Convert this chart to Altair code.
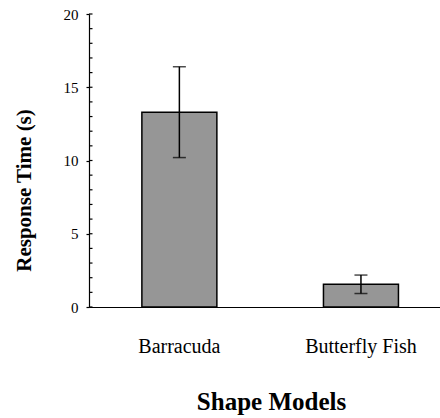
import altair as alt
import pandas as pd

categories = ["Barracuda", "Butterfly Fish"]
means = [13.3, 1.55]
errors = [3.1, 0.63]
y_ticks = [0, 5, 10, 15, 20]
minor_ticks = list(range(0, 21))

df = pd.DataFrame({"model": categories, "mean": means, "err": errors})
df["lo"] = df["mean"] - df["err"]
df["hi"] = df["mean"] + df["err"]
ticks_df = pd.DataFrame({"v": minor_ticks})

FONT = "Liberation Serif"

x_enc = alt.X(
    "model:N",
    sort=categories,
    scale=alt.Scale(paddingInner=0.587, paddingOuter=0.26, align=0.56),
    axis=alt.Axis(
        title="Shape Models",
        titleFont=FONT, titleFontSize=25, titleFontWeight="bold", titleColor="black",
        titleBaseline="alphabetic", titleX=182, titleY=102,
        labelFont=FONT, labelFontSize=20, labelColor="black", labelAngle=0,
        labelBaseline="alphabetic", labelPadding=45,
        ticks=False, domainColor="black", domainWidth=1.2,
    ),
)

y_scale = alt.Scale(domain=[0, 20], nice=False)

bars = alt.Chart(df).mark_bar(color="#969696", stroke="black", strokeWidth=1.5).encode(
    x=x_enc,
    y=alt.Y(
        "mean:Q",
        scale=y_scale,
        axis=alt.Axis(
            values=y_ticks, grid=False,
            title="Response Time (s)",
            titleFont=FONT, titleFontSize=21, titleFontWeight="bold", titleColor="black",
            titleX=-55, titleY=176, titleBaseline="bottom",
            labelFont=FONT, labelFontSize=15, labelColor="black", labelPadding=8,
            tickSize=3, tickColor="black", tickWidth=1.2,
            domainColor="black", domainWidth=1.2,
        ),
    ),
)

rule = alt.Chart(df).mark_rule(color="black", strokeWidth=1.5).encode(
    x=alt.X("model:N", sort=categories),
    y=alt.Y("lo:Q", scale=y_scale),
    y2="hi:Q",
)

cap_hi = alt.Chart(df).mark_tick(orient="horizontal", size=13, thickness=1.5, color="black").encode(
    x=alt.X("model:N", sort=categories),
    y=alt.Y("hi:Q", scale=y_scale),
)
cap_lo = alt.Chart(df).mark_tick(orient="horizontal", size=13, thickness=1.5, color="black").encode(
    x=alt.X("model:N", sort=categories),
    y=alt.Y("lo:Q", scale=y_scale),
)

minor = alt.Chart(ticks_df).mark_rule(color="black", strokeWidth=1.2).encode(
    x=alt.value(0),
    x2=alt.value(3.5),
    y=alt.Y("v:Q", scale=y_scale),
)

chart = alt.layer(bars, rule, cap_hi, cap_lo, minor).properties(
    width=351, height=293,
    background="white",
    autosize=alt.AutoSizeParams(type="none"),
    padding={"left": 89, "top": 14, "right": 0, "bottom": 111},
).configure_view(strokeWidth=0, stroke="transparent")

chart.save("out.html", embed_options={"renderer": "svg", "actions": False})
